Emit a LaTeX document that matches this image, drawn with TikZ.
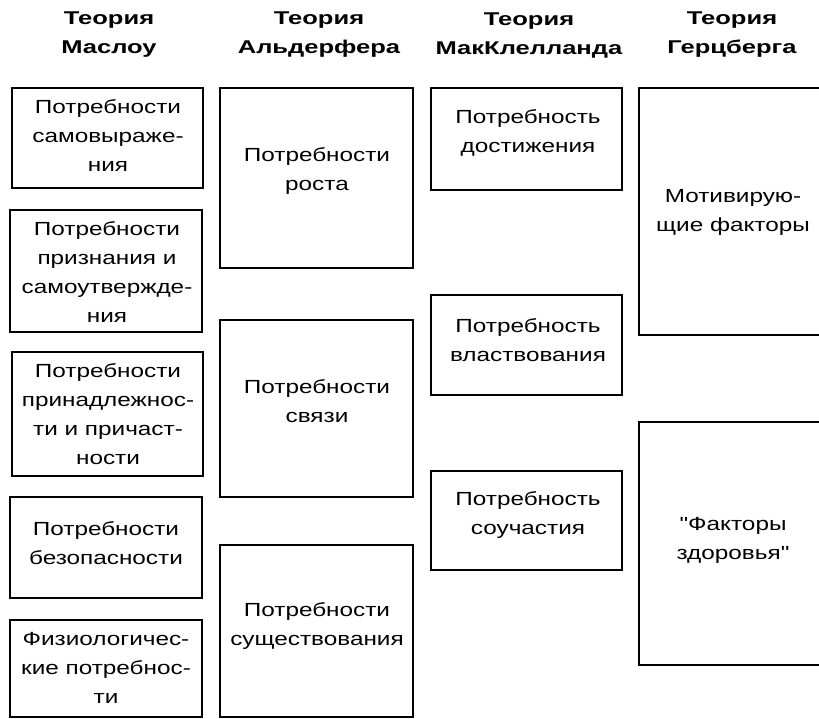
\documentclass[tikz,border=0pt]{standalone}
\usepackage{fontspec}
\newfontfamily\bodyfont[FakeStretch=1.28]{Liberation Sans}
\newfontfamily\headfont[FakeStretch=1.38]{Liberation Sans}
\tikzset{
  boxline/.style={draw=black, line width=2.4pt},
  txt/.style={align=center, inner sep=0pt, font=\bodyfont\fontsize{19}{29}\selectfont},
  head/.style={align=center, inner sep=0pt, font=\headfont\bfseries\fontsize{18.5}{29}\selectfont},
}
\begin{document}
\begin{tikzpicture}[x=1pt,y=-1pt]
\useasboundingbox (0,0) rectangle (819,719);
\fill[white] (0,0) rectangle (819,719);
\clip (0,0) rectangle (819,719);
% headers
\node[head] (h1) at (109,35) {Теория\\Маслоу};
\node[head] (h2) at (319,35) {Теория\\Альдерфера};
\node[head] (h3) at (529,35) {Теория\\МакКлелланда};
\node[head] (h4) at (732,35) {Теория\\Герцберга};
% Maslow
\draw[boxline] (12,88) rectangle (203,188);
\draw[boxline] (10,210) rectangle (202,332);
\draw[boxline] (12,352) rectangle (203,476);
\draw[boxline] (10,497) rectangle (202,598);
\draw[boxline] (10,620) rectangle (202,717);
\node[txt] (m1) at (108,136) {Потребности\\самовыраже-\\ния};
\node[txt] (m2) at (107,272) {Потребности\\признания и\\самоутвержде-\\ния};
\node[txt] (m3) at (108,414) {Потребности\\принадлежнос-\\ти и причаст-\\ности};
\node[txt] (m4) at (106,543) {Потребности\\безопасности};
\node[txt] (m5) at (106,668) {Физиологичес-\\кие потребнос-\\ти};
% Alderfer
\draw[boxline] (220,88) rectangle (413,268);
\draw[boxline] (220,320) rectangle (413,497);
\draw[boxline] (220,545) rectangle (413,717);
\node[txt] (a1) at (317,171) {Потребности\\роста};
\node[txt] (a2) at (317,401) {Потребности\\связи};
\node[txt] (a3) at (317,626) {Потребности\\существования};
% McClelland
\draw[boxline] (431,88) rectangle (622,190);
\draw[boxline] (431,295) rectangle (622,395);
\draw[boxline] (431,471) rectangle (622,570);
\node[txt] (c1) at (528,133) {Потребность\\достижения};
\node[txt] (c2) at (528,340) {Потребность\\властвования};
\node[txt] (c3) at (528,515) {Потребность\\соучастия};
% Herzberg
\draw[boxline] (639,88) rectangle (830,335);
\draw[boxline] (639,422) rectangle (830,665);
\node[txt] (g1) at (733,212) {Мотивирую-\\щие факторы};
\node[txt] (g2) at (733,540) {"Факторы\\здоровья"};
\end{tikzpicture}
\end{document}
